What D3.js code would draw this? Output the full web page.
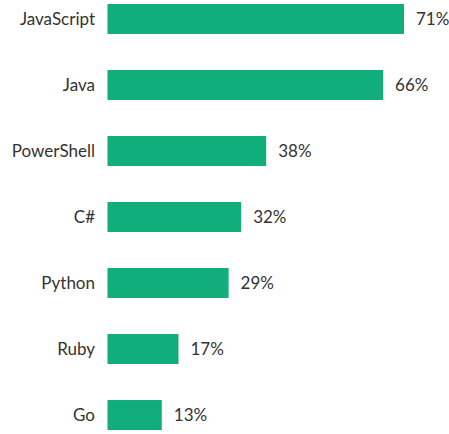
<!DOCTYPE html>
<html lang="en">
<head>
    <meta charset="UTF-8">
    <title>Languages</title>
    <script src="https://d3js.org/d3.v7.min.js"></script>
    <style>
        body { margin: 0; background: #fff; }
        .label { font-family: Lato, "Open Sans", sans-serif; font-size: 17px; fill: #333; }
    </style>
</head>
<body>
    <svg id="chart" width="449" height="434"></svg>
    <script>
        const languages = ["JavaScript", "Java", "PowerShell", "C#", "Python", "Ruby", "Go"];
        const shares = [71, 66, 38, 32, 29, 17, 13];

        const data = languages.map((name, i) => ({ name: name, value: shares[i] }));

        const svg = d3.select("#chart");

        const x = d3.scaleLinear()
            .domain([0, d3.max(shares)])
            .range([107.5, 404]);

        const y = d3.scaleBand()
            .domain(languages)
            .range([4, 430])
            .paddingInner(0.546)
            .paddingOuter(0);

        svg.selectAll(".bar")
            .data(data)
            .enter()
            .append("rect")
            .attr("class", "bar")
            .attr("x", x(0))
            .attr("y", d => y(d.name))
            .attr("width", d => x(d.value) - x(0))
            .attr("height", y.bandwidth())
            .attr("fill", "#11ad7a");

        // category names to the left of each bar
        svg.selectAll(".cat")
            .data(data)
            .enter()
            .append("text")
            .attr("class", "label cat")
            .attr("x", 95)
            .attr("y", d => y(d.name) + y.bandwidth() / 2)
            .attr("dy", "0.35em")
            .attr("text-anchor", "end")
            .text(d => d.name);

        // percent at the end of each bar
        svg.selectAll(".val")
            .data(data)
            .enter()
            .append("text")
            .attr("class", "label val")
            .attr("x", d => x(d.value) + 12)
            .attr("y", d => y(d.name) + y.bandwidth() / 2)
            .attr("dy", "0.35em")
            .text(d => d.value + "%");
    </script>
</body>
</html>
